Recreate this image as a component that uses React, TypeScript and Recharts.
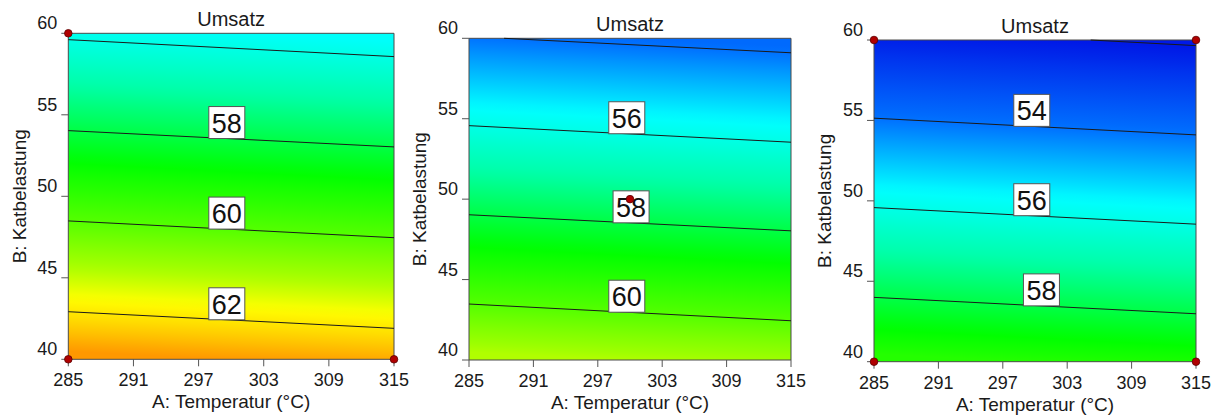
import React from 'react';
import { ComposedChart, Line, Scatter, XAxis, YAxis, ReferenceArea } from 'recharts';

const tempTicks = [285, 291, 297, 303, 309, 315];
const loadTicks = [40, 45, 50, 55, 60];

// contour level, B value where the contour meets A = 285 and A = 315
const p1Levels = [56, 58, 60, 62];
const p1AtLow = [59.61, 54.03, 48.49, 42.92];
const p1AtHigh = [58.57, 53.03, 47.46, 41.9];
const p1Labels = [58, 60, 62];
const p1LabelTemp = [299.6, 299.6, 299.6];
const p1PointTemp = [285, 285, 315];
const p1PointLoad = [60, 40, 40];

const p2Levels = [54, 56, 58, 60];
const p2AtLow = [60.11, 54.57, 49.03, 43.48];
const p2AtHigh = [59.1, 53.54, 48.03, 42.44];
const p2Labels = [56, 58, 60];
const p2LabelTemp = [299.7, 300.1, 299.7];
const p2PointTemp = [300];
const p2PointLoad = [50];

const p3Levels = [52, 54, 56, 58];
const p3AtLow = [60.72, 55.14, 49.58, 44.0];
const p3AtHigh = [59.65, 54.1, 48.55, 42.98];
const p3Labels = [54, 56, 58];
const p3LabelTemp = [299.7, 299.7, 300.6];
const p3PointTemp = [285, 315, 285, 315];
const p3PointLoad = [60, 60, 40, 40];

// colour scale for Umsatz
const cmapValues = [51.5, 54, 55.6, 57, 58.7, 60, 61, 61.7, 62.2, 63.2];
const cmapColors = ['#0000e0', '#0070ff', '#00ffff', '#00ffa8', '#00ff00', '#55ff00', '#a8ff00', '#ffff00', '#ffd800', '#ff7800'];

const font = '"Liberation Sans", Arial, sans-serif';
const tMin = 285;
const tMax = 315;
const bMin = 40;
const bMax = 60;

const rgb = (h: string) => [1, 3, 5].map((i) => parseInt(h.slice(i, i + 2), 16));

const colorAt = (v: number) => {
  if (v <= cmapValues[0]) return cmapColors[0];
  const n = cmapValues.length;
  if (v >= cmapValues[n - 1]) return cmapColors[n - 1];
  let i = 0;
  while (v > cmapValues[i + 1]) i++;
  const f = (v - cmapValues[i]) / (cmapValues[i + 1] - cmapValues[i]);
  const a = rgb(cmapColors[i]);
  const b = rgb(cmapColors[i + 1]);
  const c = a.map((x, k) => Math.round(x + (b[k] - x) * f));
  return `rgb(${c[0]},${c[1]},${c[2]})`;
};

const loadOnLine = (low: number, high: number, temp: number) =>
  low + ((high - low) * (temp - tMin)) / (tMax - tMin);

// response at middle temperature, from the contour levels
const responseAt = (levels: number[], low: number[], high: number[], load: number) => {
  const mids = low.map((l, i) => (l + high[i]) / 2);
  let i = 0;
  while (i < mids.length - 2 && load < mids[i + 1]) i++;
  return levels[i] + ((levels[i + 1] - levels[i]) * (mids[i] - load)) / (mids[i] - mids[i + 1]);
};

// contour segment clipped to the plot box
const contourData = (low: number, high: number) => {
  const pts = [
    { A: tMin, B: low },
    { A: tMax, B: high },
  ];
  if (low > bMax) {
    const a = tMin + ((low - bMax) / (low - high)) * (tMax - tMin);
    pts[0] = { A: a, B: bMax };
  }
  return pts;
};

const YTick = (p: any) => (
  <text x={p.x} y={p.y - 4} textAnchor="end" fontSize={18} fontFamily={font} fill="#1a1a1a">
    {p.payload.value}
  </text>
);

const XTick = (p: any) => (
  <text x={p.x} y={p.y + 18} textAnchor="middle" fontSize={18} fontFamily={font} fill="#1a1a1a">
    {p.payload.value}
  </text>
);

const LabelBox = (p: any) => (
  <g>
    <rect x={p.cx - 18} y={p.cy - 32} width={36} height={32} fill="#ffffff" stroke="#555" strokeWidth={1} />
    <text x={p.cx} y={p.cy - 6} textAnchor="middle" fontSize={27} fontFamily={font} fill="#111">
      {p.payload.text}
    </text>
  </g>
);

const DesignDot = (p: any) => (
  <circle cx={p.cx} cy={p.cy} r={3.8} fill="#b00000" stroke="#5a0000" strokeWidth={0.8} />
);

type PanelProps = {
  id: string;
  left: number;
  width: number;
  yAxisW: number;
  top: number;
  right: number;
  xAxisH: number;
  levels: number[];
  atLow: number[];
  atHigh: number[];
  labels: number[];
  labelTemp: number[];
  pointTemp: number[];
  pointLoad: number[];
};

function Panel(props: PanelProps) {
  const { id, left, width, yAxisW, top, right, xAxisH, levels, atLow, atHigh, labels, labelTemp, pointTemp, pointLoad } = props;
  const height = 416;
  const plotBottom = height - xAxisH;
  const plotCx = (yAxisW + width - right) / 2;
  const plotCy = (top + plotBottom) / 2;

  const stops = Array.from({ length: 41 }, (_, k) => {
    const t = k / 40;
    const load = bMax - (bMax - bMin) * t;
    return { offset: t, color: colorAt(responseAt(levels, atLow, atHigh, load)) };
  });

  const labelData = labels.map((lv, i) => {
    const k = levels.indexOf(lv);
    return { A: labelTemp[i], B: loadOnLine(atLow[k], atHigh[k], labelTemp[i]), text: lv };
  });
  const pointData = pointTemp.map((a, i) => ({ A: a, B: pointLoad[i] }));

  return (
    <div style={{ position: 'absolute', left, top: 0, width, height }}>
      <ComposedChart width={width} height={height} margin={{ top, right, left: 0, bottom: 0 }}>
        <defs>
          <linearGradient id={id} x1="0.5256" y1="0" x2="0.4744" y2="1">
            {stops.map((s) => (
              <stop key={s.offset} offset={s.offset} stopColor={s.color} />
            ))}
          </linearGradient>
        </defs>
        <XAxis
          type="number"
          dataKey="A"
          domain={[tMin, tMax]}
          ticks={tempTicks}
          height={xAxisH}
          tickSize={7}
          tickMargin={2}
          axisLine={false}
          tickLine={{ stroke: '#555' }}
          tick={XTick}
          interval={0}
        />
        <YAxis
          type="number"
          dataKey="B"
          domain={[bMin, bMax]}
          ticks={loadTicks}
          width={yAxisW}
          tickSize={7}
          tickMargin={4}
          axisLine={false}
          tickLine={{ stroke: '#555' }}
          tick={YTick}
          interval={0}
        />
        <ReferenceArea x1={tMin} x2={tMax} y1={bMin} y2={bMax} fill={`url(#${id})`} fillOpacity={1} stroke="#4a4a4a" strokeWidth={1} />
        {levels.map((lv, i) => (
          <Line
            key={lv}
            data={contourData(atLow[i], atHigh[i])}
            dataKey="B"
            stroke="#1a1a1a"
            strokeWidth={1}
            dot={false}
            activeDot={false}
            isAnimationActive={false}
          />
        ))}
        <Scatter data={labelData} dataKey="B" shape={LabelBox} isAnimationActive={false} />
        <Scatter data={pointData} dataKey="B" shape={DesignDot} isAnimationActive={false} />
        <text x={plotCx} y={top - 7} textAnchor="middle" fontSize={20} fontFamily={font} fill="#1a1a1a">
          Umsatz
        </text>
        <text x={plotCx} y={plotBottom + 49} textAnchor="middle" fontSize={19} fontFamily={font} fill="#1a1a1a">
          A: Temperatur (°C)
        </text>
        <text
          x={yAxisW - 49}
          y={plotCy}
          transform={`rotate(-90 ${yAxisW - 49} ${plotCy})`}
          textAnchor="middle"
          dominantBaseline="central"
          fontSize={19}
          fontFamily={font}
          fill="#1a1a1a"
        >
          B: Katbelastung
        </text>
      </ComposedChart>
    </div>
  );
}

export default function App() {
  return (
    <div style={{ position: 'absolute', left: 0, top: 0, width: 1220, height: 416, background: '#fff' }}>
      <Panel id="g1" left={0} width={422} yAxisW={68.3} top={33.3} right={28} xAxisH={56.7}
        levels={p1Levels} atLow={p1AtLow} atHigh={p1AtHigh} labels={p1Labels} labelTemp={p1LabelTemp}
        pointTemp={p1PointTemp} pointLoad={p1PointLoad} />
      <Panel id="g2" left={405} width={405} yAxisW={64} top={38.3} right={19} xAxisH={56}
        levels={p2Levels} atLow={p2AtLow} atHigh={p2AtHigh} labels={p2Labels} labelTemp={p2LabelTemp}
        pointTemp={p2PointTemp} pointLoad={p2PointLoad} />
      <Panel id="g3" left={810} width={410} yAxisW={64} top={40} right={24} xAxisH={54.3}
        levels={p3Levels} atLow={p3AtLow} atHigh={p3AtHigh} labels={p3Labels} labelTemp={p3LabelTemp}
        pointTemp={p3PointTemp} pointLoad={p3PointLoad} />
    </div>
  );
}
